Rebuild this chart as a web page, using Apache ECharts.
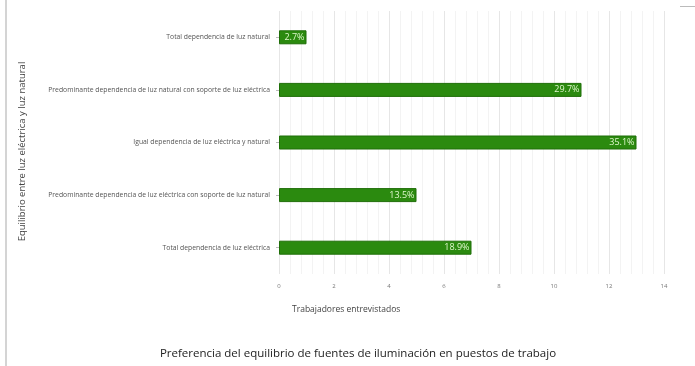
<!DOCTYPE html>
<html>
<head>
<meta charset="utf-8">
<script src="https://cdn.jsdelivr.net/npm/echarts@6/dist/echarts.min.js"></script>
<style>html,body{margin:0;padding:0;background:#fff;}#c{width:695px;height:366px;}</style>
</head>
<body>
<div id="c"></div>
<script>
// Categories from top to bottom
const categories = [
  'Total dependencia de luz natural',
  'Predominante dependencia de luz natural con soporte de luz eléctrica',
  'Igual dependencia de luz eléctrica y natural',
  'Predominante dependencia de luz eléctrica con soporte de luz natural',
  'Total dependencia de luz eléctrica'
];
const workers = [1, 11, 13, 5, 7];
const percentLabels = ['2.7%', '29.7%', '35.1%', '13.5%', '18.9%'];
const xTicks = [0, 2, 4, 6, 8, 10, 12, 14];

const chart = echarts.init(document.getElementById('c'), null, {renderer: 'canvas'});
chart.setOption({
  animation: false,
  backgroundColor: '#fff',
  title: {
    text: 'Preferencia del equilibrio de fuentes de iluminación en puestos de trabajo',
    left: 353, top: 343, textAlign: 'center',
    textStyle: {fontFamily: 'Open Sans', fontSize: 11.5, fontWeight: 'normal', color: '#222'}
  },
  grid: {left: 279, right: 31, top: 11, bottom: 92, containLabel: false},
  xAxis: {
    type: 'value', min: xTicks[0], max: xTicks[xTicks.length - 1], interval: 2,
    name: 'Trabajadores entrevistados',
    nameLocation: 'start', nameGap: -13,
    nameTextStyle: {align: 'left', verticalAlign: 'top', padding: [31, 0, 0, 0], fontFamily: 'Open Sans', fontSize: 8.5, color: '#444'},
    axisLine: {show: false}, axisTick: {show: false},
    axisLabel: {fontFamily: 'Open Sans', fontSize: 6, color: '#777', margin: 9},
    splitLine: {show: true, lineStyle: {color: '#e6e6e6', width: 1}},
    minorTick: {show: false, splitNumber: 5},
    minorSplitLine: {show: true, lineStyle: {color: '#f3f3f3', width: 1}}
  },
  yAxis: {
    type: 'category', data: categories, inverse: true,
    name: 'Equilibrio entre luz eléctrica y luz natural',
    nameLocation: 'middle', nameGap: 252,
    nameTextStyle: {fontFamily: 'Open Sans', fontSize: 9.5, color: '#444', padding: [0, 18, 0, 0]},
    axisLine: {show: false},
    axisTick: {show: true, alignWithLabel: true, length: 3, lineStyle: {color: '#bbb'}},
    axisLabel: {fontFamily: 'Open Sans', fontSize: 6.8, color: '#555', margin: 9}
  },
  series: [{
    type: 'bar', data: workers, barWidth: 14,
    itemStyle: {color: '#2b8a0f', borderColor: '#1f6e08', borderWidth: 1},
    label: {
      show: true, position: 'insideRight', distance: 2,
      formatter: p => percentLabels[p.dataIndex],
      fontFamily: 'Open Sans', fontSize: 9, color: '#dff7cc'
    }
  }],
  graphic: [
    {type: 'rect', shape: {x: 5, y: 0, width: 2, height: 366}, style: {fill: '#d4d4d4'}},
    {type: 'rect', shape: {x: 680, y: 6, width: 15, height: 1}, style: {fill: '#bbb'}}
  ]
});
</script>
</body>
</html>
